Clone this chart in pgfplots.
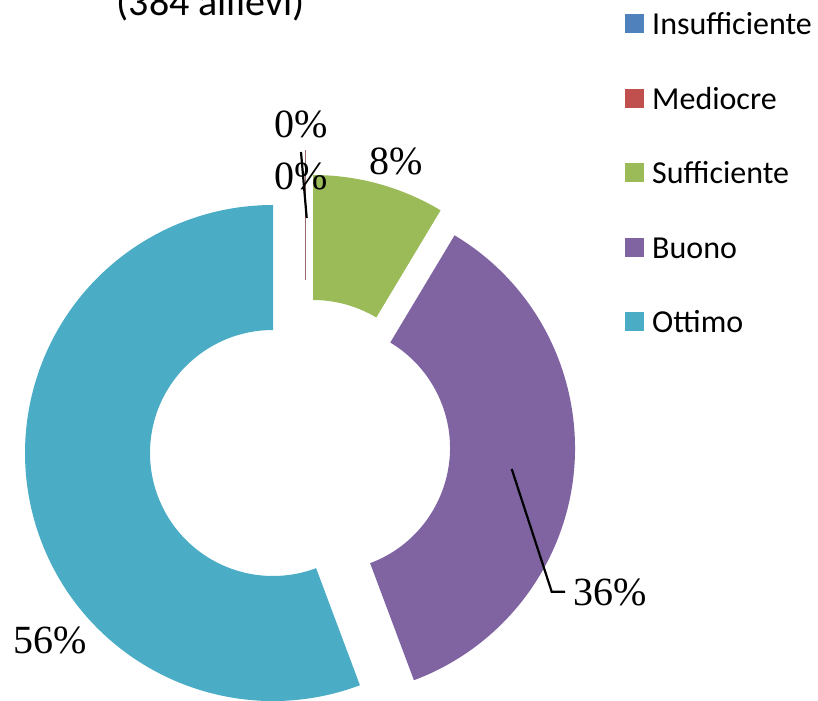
\documentclass[border=0pt]{standalone}
\usepackage{pgfplots}
\pgfplotsset{compat=1.18}
\usepackage{fontspec}
\setmainfont{Carlito}
\newfontfamily\tnr{Liberation Serif}
\definecolor{cIns}{HTML}{4F81BD}
\definecolor{cMed}{HTML}{C0504D}
\definecolor{cSuf}{HTML}{9BBB59}
\definecolor{cBuo}{HTML}{8064A2}
\definecolor{cOtt}{HTML}{4BACC6}
% data (percent)
\def\vIns{0}
\def\vMed{0}
\def\vSuf{8.6}
\def\vBuo{35.7}
\def\vOtt{55.7}
\pgfmathsetmacro{\aA}{90-3.6*(\vIns+\vMed)}
\pgfmathsetmacro{\aB}{\aA-3.6*\vSuf}
\pgfmathsetmacro{\aC}{\aB-3.6*\vBuo}
\pgfmathsetmacro{\aD}{\aC-3.6*\vOtt}
\newcommand{\slice}[5]{% cx, cy, start, end, colour
  \fill[#5] (axis cs:#1,#2) ++(#3:248bp) arc[start angle=#3,end angle=#4,radius=248bp]
   -- ([shift={(#4:123bp)}]axis cs:#1,#2) arc[start angle=#4,end angle=#3,radius=123bp] -- cycle;}
\begin{document}
\begin{tikzpicture}
\useasboundingbox (0,0) rectangle (818bp,701bp);
\clip (0,0) rectangle (818bp,701bp);
\begin{axis}[at={(0,0)},anchor=south west,scale only axis,width=818bp,height=701bp,
  xmin=0,xmax=818,ymin=0,ymax=701,hide axis,clip=false]
\slice{313}{278}{\aA}{\aB}{cSuf}
\slice{327}{253}{\aB}{\aC}{cBuo}
\slice{273}{248}{\aC}{\aD}{cOtt}
% zero-valued slices
\draw[cMed!40!gray,line width=0.6bp] (axis cs:305.3,551) -- (axis cs:305.3,421);
% leader lines
\draw[black,line width=2.2bp] (axis cs:511.7,232) -- (axis cs:551.7,109.3) -- (axis cs:565,109.3);
\draw[black,line width=2.2bp] (axis cs:301,549) -- (axis cs:306.7,483);
% labels
\begin{scope}[every node/.style={font=\tnr\fontsize{40bp}{48bp}\selectfont,inner sep=0pt,anchor=base}]
\node at (axis cs:301,563) {0\%};
\node at (axis cs:301,511) {0\%};
\node at (axis cs:396,526) {8\%};
\node at (axis cs:610,95) {36\%};
\node at (axis cs:50,47) {56\%};
\end{scope}
% title (cut by the top edge, as in the reference)
\node[font=\fontsize{40bp}{48bp}\selectfont,inner sep=0pt,anchor=base] at (axis cs:210.5,685) {(384 allievi)};
% legend
\begin{scope}[every node/.style={font=\fontsize{32bp}{38bp}\selectfont,inner sep=0pt,anchor=base west}]
\fill[cIns] (axis cs:625,667.5) rectangle (axis cs:644,686.5);
\node at (axis cs:652,666) {Insufficiente};
\fill[cMed] (axis cs:625,593) rectangle (axis cs:644,612);
\node at (axis cs:652,591.5) {Mediocre};
\fill[cSuf] (axis cs:625,518.5) rectangle (axis cs:644,537.5);
\node at (axis cs:652,517) {Sufficiente};
\fill[cBuo] (axis cs:625,444) rectangle (axis cs:644,463);
\node at (axis cs:652,442.5) {Buono};
\fill[cOtt] (axis cs:625,369.5) rectangle (axis cs:644,388.5);
\node at (axis cs:652,368) {Ottimo};
\end{scope}
\end{axis}
\end{tikzpicture}
\end{document}
